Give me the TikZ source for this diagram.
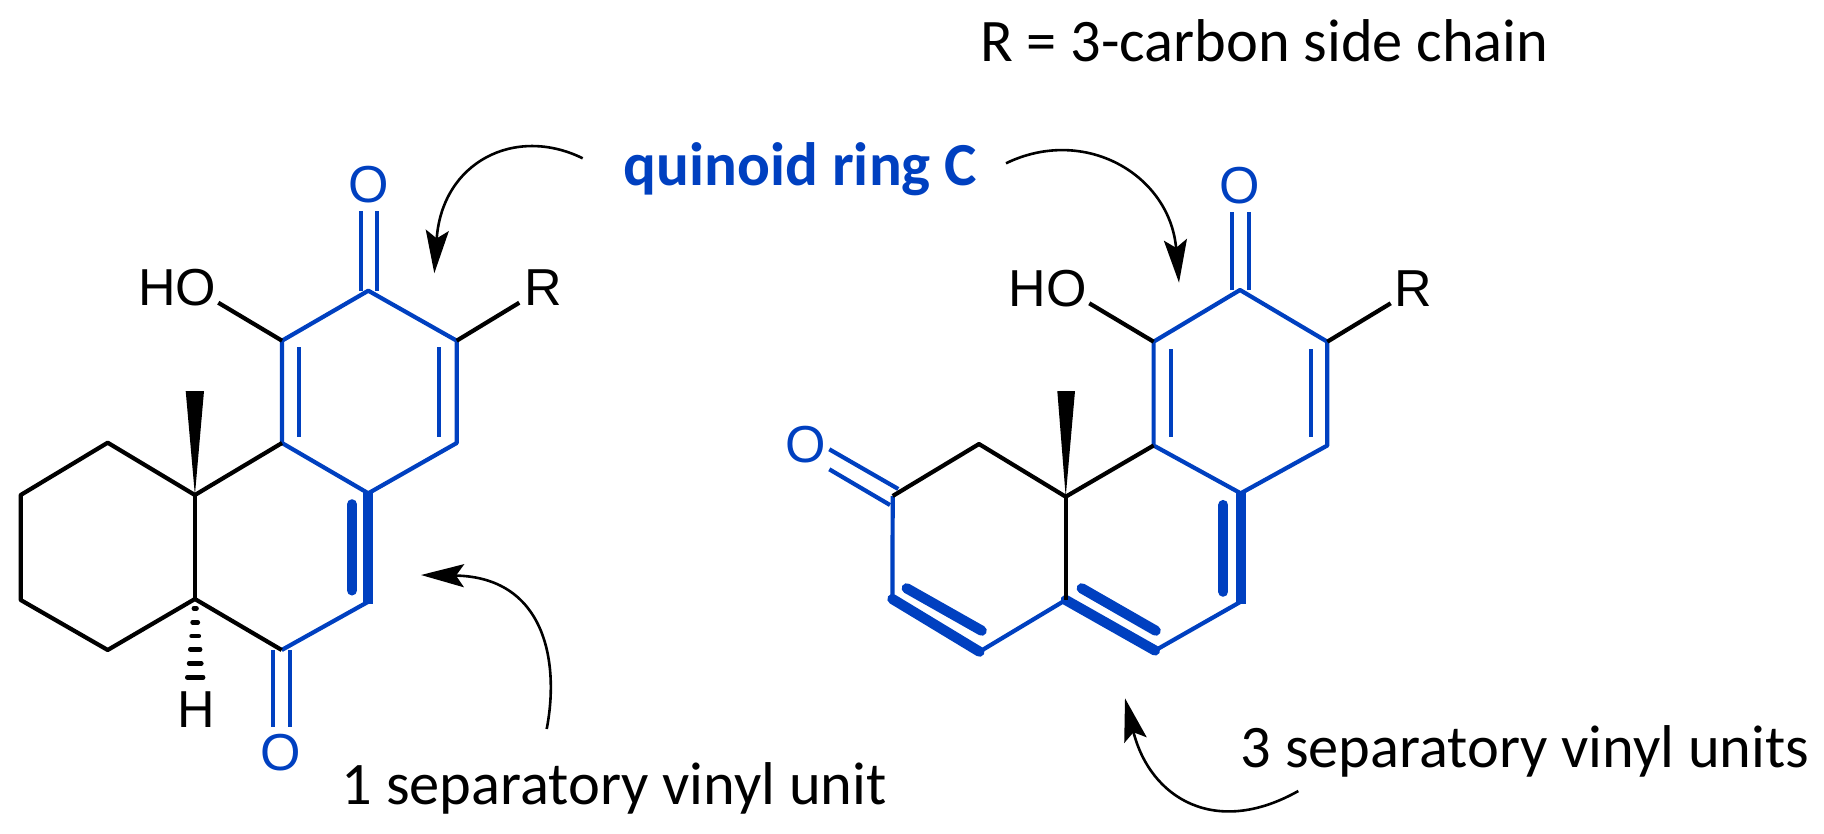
\documentclass[tikz,border=0pt]{standalone}
\usepackage{fontspec}
\usepackage{xcolor}
\setmainfont{Carlito}
\newfontfamily\atomfont{Liberation Sans}
\usetikzlibrary{arrows.meta}
\definecolor{quinoid}{RGB}{0,64,192}

\begin{document}
\begin{tikzpicture}[
    x=0.5pt, y=-0.5pt,
    bond/.style={line width=2.1pt},
    cbond/.style={line width=2.1pt, quinoid},
    vinyl/.style={line width=5.1pt, quinoid, line cap=round},
    hash/.style={line width=2.2pt, line cap=round},
    curved/.style={line width=1.3pt, -{Stealth[length=21.5pt, width=11.5pt, inset=4pt]}},
    atom/.style={font=\atomfont\fontsize{26pt}{28pt}\selectfont, inner sep=0pt, anchor=base},
    caption/.style={font=\fontsize{30.2pt}{34pt}\selectfont, inner sep=0pt, anchor=base west}
]
\useasboundingbox (0,0) rectangle (1824,834);

% Left Molecule
\coordinate (la) at (368.3,290.7);
\coordinate (lb) at (282,340.7);
\coordinate (lc) at (456.7,340.7);
\coordinate (ld) at (282,443);
\coordinate (le) at (456.7,443);
\coordinate (lf) at (368.3,493.3);
\coordinate (lg) at (368.3,601.7);
\coordinate (lh) at (281.7,650);
\coordinate (li) at (194.9,495);
\coordinate (lj) at (194.9,599);
\coordinate (lk) at (107.7,442.7);
\coordinate (ll) at (20.7,495);
\coordinate (lm) at (20.7,600);
\coordinate (ln) at (107.7,650);

% Left Labels
\node[atom, quinoid] (lotop) at (368.3,202.7) {O};
\node[atom, quinoid] (lobot) at (280.7,770) {O};
\node[atom, anchor=base west] (lho) at (137.7,305.5) {HO};
\node[atom, anchor=base west] (lr) at (524,305.5) {R};
\node[atom] (lhyd) at (195.8,727.3) {H};
\coordinate (lhoend) at (218.3,302.7);
\coordinate (lrend) at (519.3,302.7);

% Left Ring C
\draw[cbond, line join=round] (lb) -- (la) -- (lc) -- (le) -- (lf) -- (ld) -- cycle;
\draw[cbond] (lf) -- (lg) -- (lh);
\draw[cbond] ([xshift=-3.8pt]la) -- ([xshift=-3.8pt,yshift=40pt]la);
\draw[cbond] ([xshift=4.5pt]la) -- ([xshift=4.5pt,yshift=40pt]la);
\draw[cbond] ([xshift=8.5pt,yshift=-3.3pt]lb) -- ([xshift=8.5pt,yshift=-48pt]lb);
\draw[cbond] ([xshift=-8.7pt,yshift=-3.3pt]lc) -- ([xshift=-8.7pt,yshift=-48pt]lc);
\draw[cbond] ([xshift=-4.2pt]lh) -- ([xshift=-4.2pt,yshift=-38.7pt]lh);
\draw[cbond] ([xshift=4.3pt]lh) -- ([xshift=4.3pt,yshift=-38.7pt]lh);
\draw[vinyl, line cap=butt] ([yshift=1.3pt]lf) -- ([yshift=-1.2pt]lg);
\draw[vinyl] (352,504.3) -- (352,590.4);

% Left Black Bonds
\draw[bond, line join=round] (ld) -- (li) -- (lk) -- (ll) -- (lm) -- (ln) -- (lj) -- (lh);
\draw[bond] (li) -- (lj);
\draw[bond] (lb) -- (lhoend);
\draw[bond] (lc) -- (lrend);
\fill (li) -- (185.7,391) -- (204,391) -- cycle;
\foreach \ypos/\half in {608.3/1.4, 622.3/2.7, 636/3.7, 649.3/5, 663.3/6.2, 677.3/8}
    \draw[hash] (195.2-\half,\ypos) -- (195.2+\half,\ypos);

% Right Molecule
\coordinate (ra) at (1240,290);
\coordinate (rb) at (1153.6,341.7);
\coordinate (rc) at (1327.3,341.7);
\coordinate (rd) at (1153.6,445.5);
\coordinate (re) at (1327.3,445.5);
\coordinate (rf) at (1240.7,493.3);
\coordinate (rg) at (1240.7,601.7);
\coordinate (rh) at (1155,650.5);
\coordinate (ri) at (1065.7,496.7);
\coordinate (rj) at (1065.7,600);
\coordinate (rk) at (979,444);
\coordinate (rl) at (892.7,496);
\coordinate (rm) at (892.4,599);
\coordinate (rn) at (979.5,651.7);

% Right Labels
\node[atom, quinoid] (rotop) at (1240,203.7) {O};
\node[atom, quinoid] (roleft) at (805.3,462.7) {O};
\node[atom, anchor=base west] (rho) at (1008.3,306.5) {HO};
\node[atom, anchor=base west] (rr) at (1394.3,306.5) {R};
\coordinate (rhoend) at (1089.3,303.3);
\coordinate (rrend) at (1390.7,303.3);

% Right Ring C
\draw[cbond, line join=round] (rb) -- (ra) -- (rc) -- (re) -- (rf) -- (rd) -- cycle;
\draw[cbond] (rf) -- (rg) -- (rh);
\draw[cbond] (rj) -- (rn);
\draw[cbond] (rl) -- (rm);
\draw[cbond] ([xshift=-4pt]ra) -- ([xshift=-4pt,yshift=38.9pt]ra);
\draw[cbond] ([xshift=4.5pt]ra) -- ([xshift=4.5pt,yshift=38.9pt]ra);
\draw[cbond] ([xshift=8.5pt,yshift=-3.7pt]rb) -- ([xshift=8.5pt,yshift=-47.5pt]rb);
\draw[cbond] ([xshift=-8.3pt,yshift=-3.7pt]rc) -- ([xshift=-8.3pt,yshift=-47.5pt]rc);
\draw[cbond] (829.3,449.3) -- (898.3,489);
\draw[cbond] (829.3,469.3) -- (890,505);
\draw[vinyl, line cap=butt] ([yshift=1.3pt]rf) -- ([yshift=-1.2pt]rg);
\draw[vinyl] (1223.3,505) -- (1223.3,591.7);
\draw[vinyl] (rm) -- (rn);
\draw[vinyl] (906.7,588.3) -- (981.7,630.7);
\draw[vinyl] (rj) -- (rh);
\draw[vinyl] (1081.7,588.3) -- (1155.7,630.7);

% Right Black Bonds
\draw[bond, line join=round] (rd) -- (ri) -- (rk) -- (rl);
\draw[bond] (ri) -- (rj);
\draw[bond] (rb) -- (rhoend);
\draw[bond] (rc) -- (rrend);
\fill (ri) -- (1057.3,391) -- (1075,391) -- cycle;

% Labels
\node[caption] (sidechain) at (980,62) {R = 3-carbon side chain};
\node[caption, font=\fontsize{30.6pt}{34pt}\selectfont\bfseries, quinoid] (ringc) at (623.5,186) {quinoid ring C};
\node[caption] (oneunit) at (341.5,804.5) {1 separatory vinyl unit};
\node[caption] (threeunit) at (1240.5,767.5) {3 separatory vinyl units};

% Curved Arrows
\coordinate (astart) at (582.7,158.3);
\coordinate (atip) at (434.3,273.3);
\coordinate (bstart) at (546.7,729);
\coordinate (btip) at (421,575);
\coordinate (cstart) at (1006,163.3);
\coordinate (ctip) at (1179,282.7);
\coordinate (dstart) at (1298.3,791);
\coordinate (dtip) at (1125,698.3);
\draw[curved] (astart) .. controls (515,125) and (442,162) .. (atip);
\draw[curved] (bstart) .. controls (560,660) and (544,577) .. (btip);
\draw[curved] (cstart) .. controls (1085,125) and (1170,175) .. (ctip);
\draw[curved] (dstart) .. controls (1215,838) and (1150,798) .. (dtip);

\end{tikzpicture}
\end{document}
